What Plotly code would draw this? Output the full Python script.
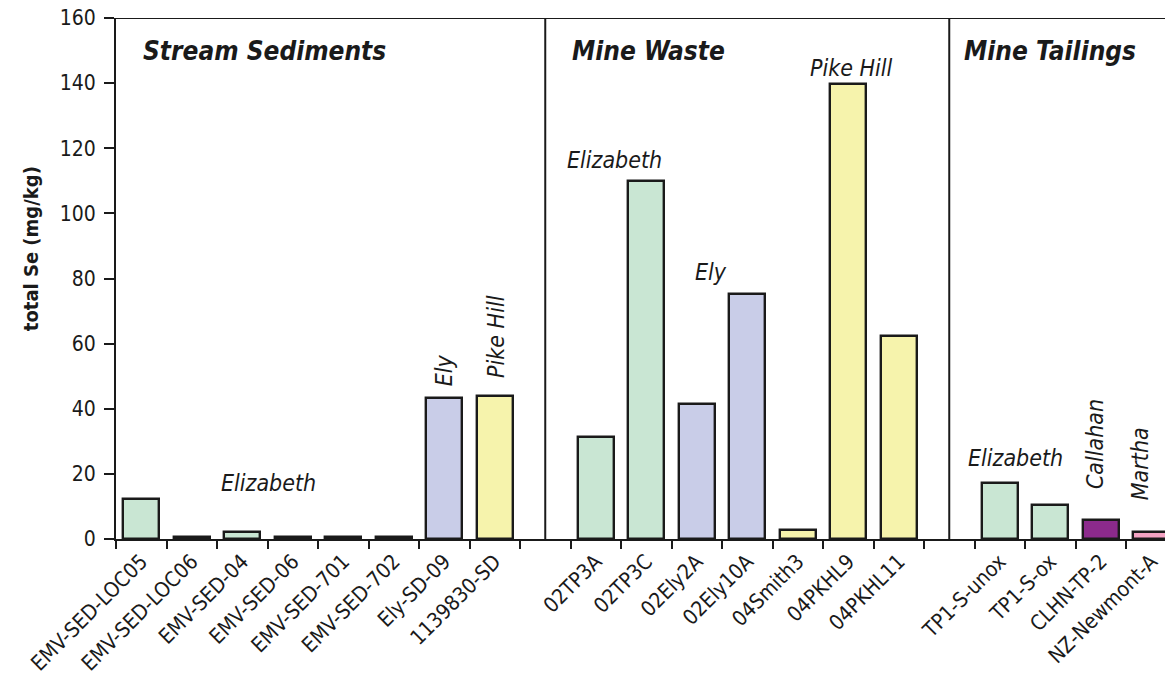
import plotly.graph_objects as go

# Sample groups, in plotting order (a blank slot separates consecutive groups)
stream_samples = ["EMV-SED-LOC05", "EMV-SED-LOC06", "EMV-SED-04", "EMV-SED-06",
                  "EMV-SED-701", "EMV-SED-702", "Ely-SD-09", "1139830-SD"]
stream_se = [12.2, 0.6, 2.1, 0.6, 0.6, 0.6, 43.3, 43.9]
stream_site = ["Elizabeth"] * 6 + ["Ely", "Pike Hill"]

waste_samples = ["02TP3A", "02TP3C", "02Ely2A", "02Ely10A", "04Smith3", "04PKHL9", "04PKHL11"]
waste_se = [31.3, 110.0, 41.5, 75.2, 2.8, 139.8, 62.4]
waste_site = ["Elizabeth", "Elizabeth", "Ely", "Ely", "Pike Hill", "Pike Hill", "Pike Hill"]

tailings_samples = ["TP1-S-unox", "TP1-S-ox", "CLHN-TP-2", "NZ-Newmont-A"]
tailings_se = [17.2, 10.4, 5.8, 2.1]
tailings_site = ["Elizabeth", "Elizabeth", "Callahan", "Martha"]

group_titles = ["Stream Sediments", "Mine Waste", "Mine Tailings"]
y_ticks = [0, 20, 40, 60, 80, 100, 120, 140, 160]
y_title = "total Se (mg/kg)"

site_colors = {
    "Elizabeth": "#c9e6d3",
    "Ely": "#c9cde8",
    "Pike Hill": "#f6f3ac",
    "Callahan": "#8c2a8c",
    "Martha": "#f4a3c3",
}

FONT = "DejaVu Sans Condensed, Liberation Sans Narrow, Arial Narrow, sans-serif"
INK = "#1a1a1a"

groups = [
    (stream_samples, stream_se, stream_site),
    (waste_samples, waste_se, waste_site),
    (tailings_samples, tailings_se, tailings_site),
]

# Numeric slot positions: one empty slot between groups
xs, names, vals, cols = [], [], [], []
sep_pos = []
pos = 0
for gi, (smp, se, site) in enumerate(groups):
    if gi > 0:
        sep_pos.append(pos)
        pos += 1
    for s, v, st in zip(smp, se, site):
        xs.append(pos)
        names.append(s)
        vals.append(v)
        cols.append(site_colors[st])
        pos += 1

fig = go.Figure(go.Bar(
    x=xs, y=vals, width=0.71,
    marker=dict(color=cols, line=dict(color=INK, width=2.4)),
    hovertext=names, showlegend=False,
))

# The last slot runs past the right edge of the page
slot_px = 50.5
plot_w = 1165 - 116
x_max = -0.5 + plot_w / slot_px

fig.update_layout(
    width=1165, height=679,
    margin=dict(l=116, r=0, t=18, b=140),
    paper_bgcolor="white", plot_bgcolor="white",
    font=dict(family=FONT, color=INK),
    bargap=0,
    xaxis=dict(
        range=[-0.5, x_max], tickmode="array", tickvals=xs, ticktext=names,
        tickangle=-45, ticks="", showgrid=False, zeroline=False,
        showline=True, linecolor=INK, linewidth=2,
        tickfont=dict(size=21, family=FONT, color=INK),
        minor=dict(tickmode="linear", tick0=-0.5, dtick=1, ticks="outside",
                   ticklen=8, tickwidth=2, tickcolor=INK, showgrid=False),
    ),
    yaxis=dict(
        range=[0, 160], tickmode="array", tickvals=y_ticks,
        ticks="outside", ticklen=10, tickwidth=2, tickcolor=INK,
        showline=True, linecolor=INK, linewidth=2,
        showgrid=False, zeroline=False, ticklabelstandoff=4,
        tickfont=dict(size=21, family=FONT, color=INK),
    ),
)

# Y-axis title, set slightly above the middle of the axis
fig.add_annotation(x=0, y=89, xref="paper", yref="y", xanchor="center", yanchor="middle",
                   xshift=-85, textangle=-90, showarrow=False,
                   text=f"<b>{y_title}</b>", font=dict(size=20, family=FONT, color=INK))

# Top frame line and group separators
fig.add_shape(type="line", xref="paper", yref="y", x0=0, x1=1, y0=160, y1=160,
              line=dict(color=INK, width=2))
for sp in sep_pos:
    fig.add_shape(type="line", xref="x", yref="y", x0=sp, x1=sp, y0=0, y1=160,
                  line=dict(color=INK, width=2))

# Group titles (left edge in slot units)
title_x = [0.0, 8.49, 16.25]
for tx, title in zip(title_x, group_titles):
    fig.add_annotation(x=tx, y=150, xref="x", yref="y", xanchor="left", yanchor="middle",
                       showarrow=False, text=f"<b><i>{title}</i></b>",
                       font=dict(size=26, family=FONT, color=INK))

# Site labels: (text, x, y, angle)
site_labels = [
    ("Elizabeth", 2.52, 17.2, 0),
    ("Ely", 6.0, 51.9, -90),
    ("Pike Hill", 7.02, 62.3, -90),
    ("Elizabeth", 9.38, 116.4, 0),
    ("Ely", 11.28, 82.0, 0),
    ("Pike Hill", 14.07, 144.7, 0),
    ("Elizabeth", 17.32, 24.9, 0),
    ("Callahan", 18.89, 29.2, -90),
    ("Martha", 19.78, 23.0, -90),
]
for text, x, y, ang in site_labels:
    fig.add_annotation(x=x, y=y, xref="x", yref="y", showarrow=False,
                       xanchor="center", yanchor="middle", textangle=ang,
                       text=f"<i>{text}</i>", font=dict(size=23, family=FONT, color=INK))

fig.write_html("out.html")
